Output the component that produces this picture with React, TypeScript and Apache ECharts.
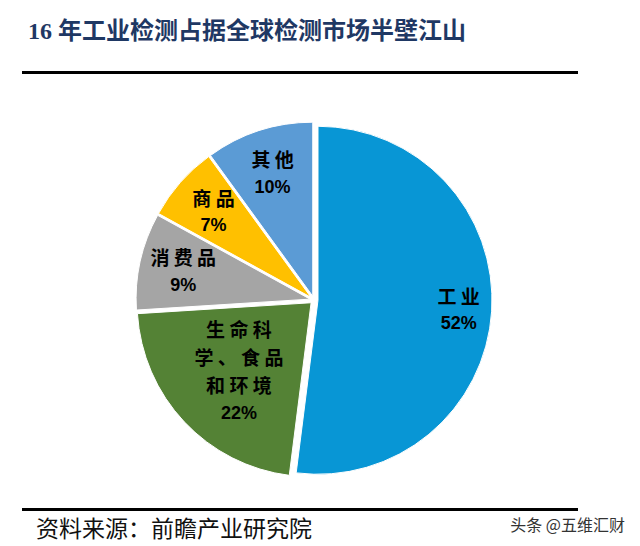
import React, { useEffect, useRef } from "react";
import * as echarts from "echarts";

const titleText = "16 年工业检测占据全球检测市场半壁江山";
const sourceText = "资料来源：前瞻产业研究院";
const watermarkText = "头条 @五维汇财";

const categories = ["工业", "生命科学、食品和环境", "消费品", "商品", "其他"];
const labelNames = ["工业", "生命科\n学、食品\n和环境", "消费品", "商品", "其他"];
const shares = [52, 22, 9, 7, 10];
const colors = ["#0896D5", "#548235", "#A5A5A5", "#FFC000", "#5B9BD5"];

const CX = 314;
const CY = 300;
const R = 174;

export default function App() {
  const ref = useRef<HTMLDivElement>(null);
  useEffect(() => {
    if (!ref.current) return;
    const chart = echarts.init(ref.current, null, { renderer: "svg" });
    const labelRich = {
      n: {
        fontFamily: "Noto Sans CJK SC",
        fontWeight: "bold",
        fontSize: 19,
        color: "#000",
        lineHeight: 28,
      },
      p: {
        fontFamily: "Liberation Sans, Arial",
        fontWeight: "bold",
        fontSize: 18,
        color: "#000",
        lineHeight: 28,
      },
    };
    const fmt = (params: any) => {
      const i = params.dataIndex;
      const lines = labelNames[i].split("\n").map((l) => `{n|${l.split("").join(" ")}}`);
      return lines.join("\n") + `\n{p|${shares[i]}%}`;
    };
    const mainData = categories.map((c, i) => ({
      name: c,
      value: shares[i],
      selected: true,
      itemStyle: { color: colors[i] },
    }));
    const overlayData = (showSet: number[]) =>
      categories.map((c, i) => ({
        name: c,
        value: shares[i],
        itemStyle: { color: "rgba(0,0,0,0)", borderWidth: 0 },
        label: { show: showSet.includes(i) },
      }));
    const overlay = (radius: number[], showSet: number[]) => ({
      type: "pie",
      center: [CX, CY],
      radius,
      startAngle: 90,
      clockwise: true,
      silent: true,
      label: {
        show: true,
        position: "inside",
        formatter: fmt,
        rich: labelRich,
      },
      labelLine: { show: false },
      emphasis: { disabled: true },
      data: overlayData(showSet),
    });
    chart.setOption({
      animation: false,
      title: [
        {
          text: titleText,
          left: 28,
          top: 19,
          padding: 0,
          textStyle: {
            fontFamily: "Liberation Serif, Noto Sans CJK SC",
            fontWeight: "bold",
            fontSize: 24,
            color: "#1F3864",
          },
        },
        {
          text: sourceText,
          left: 36,
          top: 515,
          padding: 0,
          textStyle: {
            fontFamily: "Noto Sans CJK SC",
            fontWeight: "normal",
            fontSize: 23,
            color: "#111",
          },
        },
        {
          text: watermarkText,
          right: 15,
          top: 516,
          padding: 0,
          textStyle: {
            fontFamily: "Noto Sans CJK SC",
            fontWeight: "normal",
            fontSize: 16,
            color: "#333",
          },
        },
      ],
      graphic: [
        {
          type: "line",
          shape: { x1: 22, y1: 72.5, x2: 578, y2: 72.5 },
          style: { stroke: "#000", lineWidth: 3 },
        },
        {
          type: "line",
          shape: { x1: 22, y1: 509.5, x2: 578, y2: 509.5 },
          style: { stroke: "#000", lineWidth: 3 },
        },
      ],
      series: [
        {
          type: "pie",
          center: [CX, CY],
          radius: [0, R],
          startAngle: 90,
          clockwise: true,
          selectedMode: "multiple",
          selectedOffset: 4,
          silent: true,
          label: { show: false },
          labelLine: { show: false },
          itemStyle: { borderColor: "#fff", borderWidth: 1 },
          select: { itemStyle: { borderColor: "#fff", borderWidth: 1 } },
          emphasis: { disabled: true },
          data: mainData,
        },
        overlay([110, R], [0]),
        overlay([88, R], [2, 3, 4]),
        overlay([0, 200], [1]),
      ],
    });
    return () => chart.dispose();
  }, []);
  return (
    <div
      ref={ref}
      style={{ position: "absolute", left: 0, top: 0, width: 640, height: 546, background: "#fff" }}
    />
  );
}
